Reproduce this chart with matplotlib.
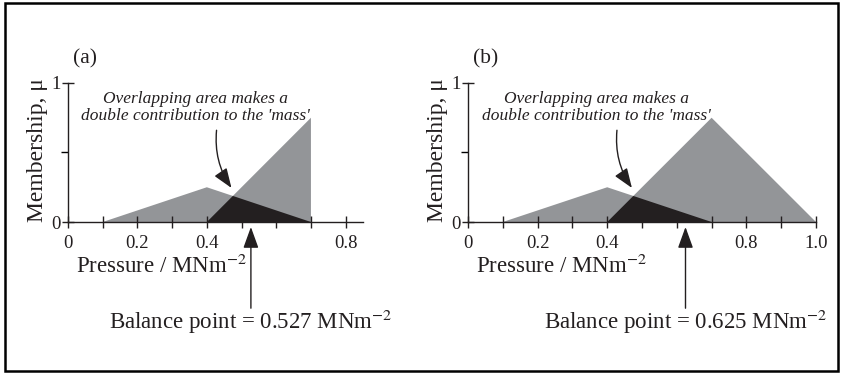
import matplotlib.pyplot as plt
import numpy as np
from matplotlib.patches import Rectangle

plt.rcParams['font.family'] = ['Liberation Serif', 'DejaVu Serif']
plt.rcParams['mathtext.fontset'] = 'stix'

gray = '#939598'
dark = '#231f20'

# membership sets (pressure, membership)
low_x = [0.1, 0.4, 0.7]
low_y = [0.0, 0.25, 0.0]
high_a_x = [0.4, 0.7, 0.7]
high_a_y = [0.0, 0.75, 0.0]
high_b_x = [0.4, 0.7, 1.0]
high_b_y = [0.0, 0.75, 0.0]
balance = [0.527, 0.625]
xmax = [0.85, 1.0]
xticklabels = [['0', '0.2', '0.4', '', '0.8'], ['0', '0.2', '0.4', '', '0.8', '1.0']]
panel_names = ['(a)', '(b)']


def overlap(x1, y1, x2, y2):
    # min of the falling edge of set 1 and the rising edge of set 2
    xa, ya, xb, yb = x1[1], y1[1], x1[2], y1[2]
    xc, yc, xd, yd = x2[0], y2[0], x2[1], y2[1]
    s1 = (yb - ya) / (xb - xa)
    s2 = (yd - yc) / (xd - xc)
    xi = (yc - ya + s1 * xa - s2 * xc) / (s1 - s2)
    yi = ya + s1 * (xi - xa)
    return [xc, xi, xb], [0, yi, 0]


fig = plt.figure(figsize=(8.43, 3.74), dpi=100)
fig.add_artist(Rectangle((0.006, 0.008), 0.988, 0.984, transform=fig.transFigure,
                         fill=False, lw=1.8, color='black'))

positions = [[68 / 843, 0.4064, 295 / 843, 0.3717],
             [468 / 843, 0.4064, 348 / 843, 0.3717]]
widths_px = [295, 348]
highs = [(high_a_x, high_a_y), (high_b_x, high_b_y)]

for i in range(2):
    ax = fig.add_axes(positions[i])
    hx, hy = highs[i]
    ax.fill(low_x, low_y, color=gray, lw=0)
    ax.fill(hx, hy, color=gray, lw=0)
    ox, oy = overlap(low_x, low_y, hx, hy)
    ax.fill(ox, oy, color=dark, lw=0)

    ax.set_xlim(0, xmax[i])
    ax.set_ylim(0, 1)
    ax.spines['top'].set_visible(False)
    ax.spines['right'].set_visible(False)
    ax.spines['left'].set_bounds(0, 1)
    ax.spines['bottom'].set_bounds(0, xmax[i])
    for s in ['left', 'bottom']:
        ax.spines[s].set_linewidth(1.0)
        ax.spines[s].set_color(dark)
        ax.spines[s].set_clip_on(False)

    ax.set_xticks(np.arange(0, xmax[i] + 0.01, 0.1))
    labels = []
    for k in range(len(ax.get_xticks())):
        labels.append(xticklabels[i][k // 2] if k % 2 == 0 else '')
    ax.set_xticklabels(labels)
    ax.tick_params(axis='x', direction='inout', length=8, width=1, pad=5,
                   labelsize=13.5, colors=dark)
    ax.set_yticks([0, 1])
    ax.set_yticklabels(['0', '1'])
    ax.set_yticks([0.5], minor=True)
    ax.tick_params(axis='y', which='major', direction='inout', length=8, width=1,
                   pad=1.5, labelsize=13.5, colors=dark)
    ax.tick_params(axis='y', which='minor', direction='out', length=5, width=1)
    for t in ax.get_xticklines() + ax.get_yticklines():
        t.set_clip_on(False)

    ax.text(-30 / widths_px[i], 0.52, 'Membership, μ', rotation=90, ha='center',
            va='center', fontsize=17, color=dark, transform=ax.get_yaxis_transform())
    ax.annotate('Pressure / MNm$^{-2}$', xy=(0.268, -0.32), ha='center', va='center',
                fontsize=16.5, color=dark, annotation_clip=False)
    ax.annotate(panel_names[i], xy=(0.05, 1.17), ha='center', va='center',
                fontsize=15.5, color=dark, annotation_clip=False)

    ax.annotate('Overlapping area makes a\ndouble contribution to the \'mass\'',
                xy=(0.368, 0.824), ha='center', va='center', fontsize=12.5,
                style='italic', color=dark, linespacing=1.05, annotation_clip=False)
    ax.annotate('', xy=(0.471, 0.245), xytext=(0.428, 0.66),
                arrowprops=dict(arrowstyle='-|>,head_length=1.2,head_width=0.45',
                                connectionstyle='arc3,rad=0.18', color=dark, lw=1,
                                shrinkA=0, shrinkB=0),
                annotation_clip=False)

    ax.annotate('', xy=(balance[i], -0.036), xytext=(balance[i], -0.62),
                arrowprops=dict(arrowstyle='-|>,head_length=1.3,head_width=0.47',
                                color=dark, lw=1, shrinkA=0, shrinkB=0),
                annotation_clip=False)
    ax.annotate('Balance point = %.3f MNm$^{-2}$' % balance[i],
                xy=(balance[i], -0.72), ha='center', va='center', fontsize=16.5,
                color=dark, annotation_clip=False)

fig.savefig('out.png', dpi=100)
